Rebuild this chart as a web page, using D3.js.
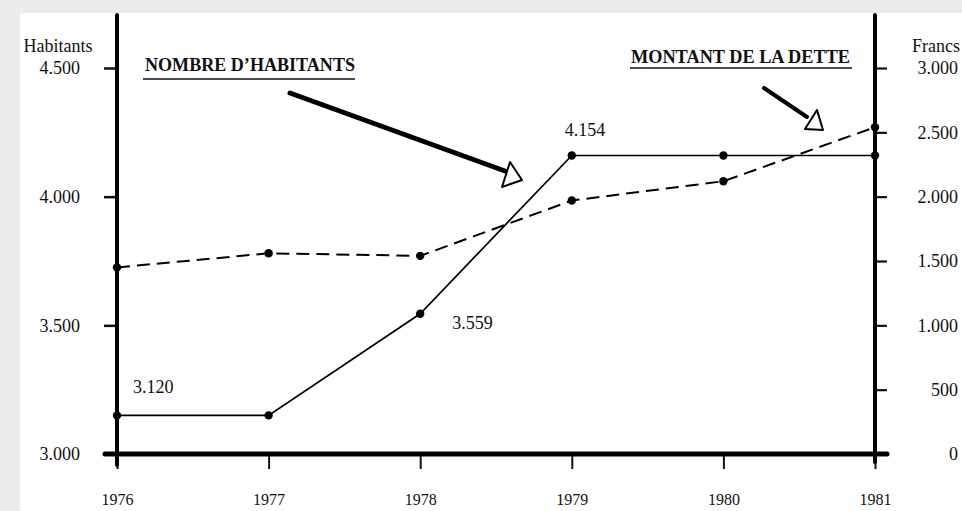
<!DOCTYPE html>
<html>
<head>
<meta charset="utf-8">
<script src="https://cdn.jsdelivr.net/npm/d3@7"></script>
<style>
  body { margin: 0; background: #ececec; }
  svg { display: block; font-family: "Liberation Serif", "Times New Roman", serif; }
</style>
</head>
<body>
<svg id="chart" width="962" height="511"></svg>
<script>
// data
const years = [1976, 1977, 1978, 1979, 1980, 1981];
const habitants = [3150, 3150, 3545, 4160, 4160, 4160];
const dette = [1450, 1560, 1540, 1970, 2120, 2540];
const habTicks = [3000, 3500, 4000, 4500];
const detteTicks = [0, 500, 1000, 1500, 2000, 2500, 3000];
// printed values next to the line
const valueLabels = [
  { year: 1976, value: 3150, text: '3.120' },
  { year: 1978, value: 3545, text: '3.559' },
  { year: 1979, value: 4160, text: '4.154' }
];

const fmt = d => d >= 1000 ? d3.format(',')(d).replace(',', '.') : String(d);

const svg = d3.select('#chart');

// white sheet
svg.append('rect').attr('x', 20).attr('y', 13).attr('width', 942).attr('height', 498).attr('fill', '#fff');

const x = d3.scalePoint().domain(years).range([117, 875]);
const yL = d3.scaleLinear().domain([3000, 4500]).range([454, 68]);
const yR = d3.scaleLinear().domain([0, 3000]).range([454, 68]);

// left axis
const gl = svg.append('g')
  .attr('transform', 'translate(117,0)')
  .call(d3.axisLeft(yL).tickValues(habTicks).tickFormat(fmt).tickSize(13).tickPadding(24));
gl.select('.domain').remove();
gl.selectAll('line').attr('stroke', '#111').attr('stroke-width', 2.5);
gl.selectAll('text').attr('font-size', 18).attr('fill', '#111').attr('font-family', 'Liberation Serif');

// right axis
const gr = svg.append('g')
  .attr('transform', 'translate(875,0)')
  .call(d3.axisRight(yR).tickValues(detteTicks).tickFormat(fmt).tickSize(12));
gr.select('.domain').remove();
gr.selectAll('line').attr('stroke', '#111').attr('stroke-width', 2.2);
gr.selectAll('text').attr('font-size', 18).attr('fill', '#111').attr('font-family', 'Liberation Serif')
  .attr('text-anchor', 'end').attr('x', 83);

// bottom axis
const gb = svg.append('g')
  .attr('transform', 'translate(0,454)')
  .call(d3.axisBottom(x).tickSize(15).tickPadding(25));
gb.select('.domain').remove();
gb.selectAll('line').attr('stroke', '#111').attr('stroke-width', 2);
gb.selectAll('text').attr('font-size', 16).attr('fill', '#111').attr('font-family', 'Liberation Serif');

// heavy axis frame lines
const frame = svg.append('g').attr('stroke', '#000').attr('stroke-linecap', 'round');
frame.append('line').attr('x1', x(1976)).attr('x2', x(1976)).attr('y1', 15).attr('y2', 465).attr('stroke-width', 4);
frame.append('line').attr('x1', x(1981)).attr('x2', x(1981)).attr('y1', 15).attr('y2', 462).attr('stroke-width', 4);
frame.append('line').attr('x1', 105).attr('x2', 887).attr('y1', yL(3000)).attr('y2', yL(3000)).attr('stroke-width', 5);

// axis titles
svg.append('text').attr('x', 58).attr('y', 52).attr('text-anchor', 'middle')
  .attr('font-size', 18).attr('fill', '#111').text('Habitants');
svg.append('text').attr('x', 912).attr('y', 52)
  .attr('font-size', 18).attr('fill', '#111').text('Francs');

// habitants line (solid)
const lineHab = d3.line().x((d, i) => x(years[i])).y(d => yL(d));
svg.append('path').datum(habitants).attr('d', lineHab)
  .attr('fill', 'none').attr('stroke', '#000').attr('stroke-width', 1.7);
svg.append('g').selectAll('circle').data(habitants).join('circle')
  .attr('cx', (d, i) => x(years[i])).attr('cy', d => yL(d)).attr('r', 4.2).attr('fill', '#000');

// dette line (dashed)
const lineDette = d3.line().x((d, i) => x(years[i])).y(d => yR(d));
svg.append('path').datum(dette).attr('d', lineDette)
  .attr('fill', 'none').attr('stroke', '#000').attr('stroke-width', 2)
  .attr('stroke-dasharray', '13,7');
svg.append('g').selectAll('circle').data(dette).join('circle')
  .attr('cx', (d, i) => x(years[i])).attr('cy', d => yR(d)).attr('r', 4.2).attr('fill', '#000');

// value labels
const labelOffset = { 1976: [16, -22], 1978: [32, 15], 1979: [-7, -19] };
svg.append('g').selectAll('text').data(valueLabels).join('text')
  .attr('x', d => x(d.year) + labelOffset[d.year][0])
  .attr('y', d => yL(d.value) + labelOffset[d.year][1])
  .attr('font-size', 18).attr('fill', '#111')
  .text(d => d.text);

// annotation titles
svg.append('text').attr('x', 145).attr('y', 71).attr('font-size', 18).attr('font-weight', 'bold')
  .attr('textLength', 210).attr('lengthAdjust', 'spacingAndGlyphs').attr('fill', '#111')
  .text('NOMBRE D\u2019HABITANTS');
svg.append('line').attr('x1', 143).attr('x2', 355).attr('y1', 79).attr('y2', 79).attr('stroke', '#111').attr('stroke-width', 1.5);

svg.append('text').attr('x', 631).attr('y', 63).attr('font-size', 18).attr('font-weight', 'bold')
  .attr('textLength', 219).attr('lengthAdjust', 'spacingAndGlyphs').attr('fill', '#111')
  .text('MONTANT DE LA DETTE');
svg.append('line').attr('x1', 630).attr('x2', 852).attr('y1', 68).attr('y2', 68).attr('stroke', '#111').attr('stroke-width', 1.5);

// arrows with hollow heads
function arrow(x1, y1, x2, y2, w, head) {
  svg.append('line').attr('x1', x1).attr('y1', y1).attr('x2', x2).attr('y2', y2)
    .attr('stroke', '#000').attr('stroke-width', w).attr('stroke-linecap', 'round');
  svg.append('path').attr('d', 'M' + head.map(p => p.join(',')).join('L') + 'Z')
    .attr('fill', '#fff').attr('stroke', '#000').attr('stroke-width', 2).attr('stroke-linejoin', 'round');
}
arrow(290, 93, 505, 171, 5, [[510, 162], [522, 180], [502, 187]]);
arrow(764, 88, 807, 117, 4, [[817, 110], [823, 130], [805, 129]]);
</script>
</body>
</html>
